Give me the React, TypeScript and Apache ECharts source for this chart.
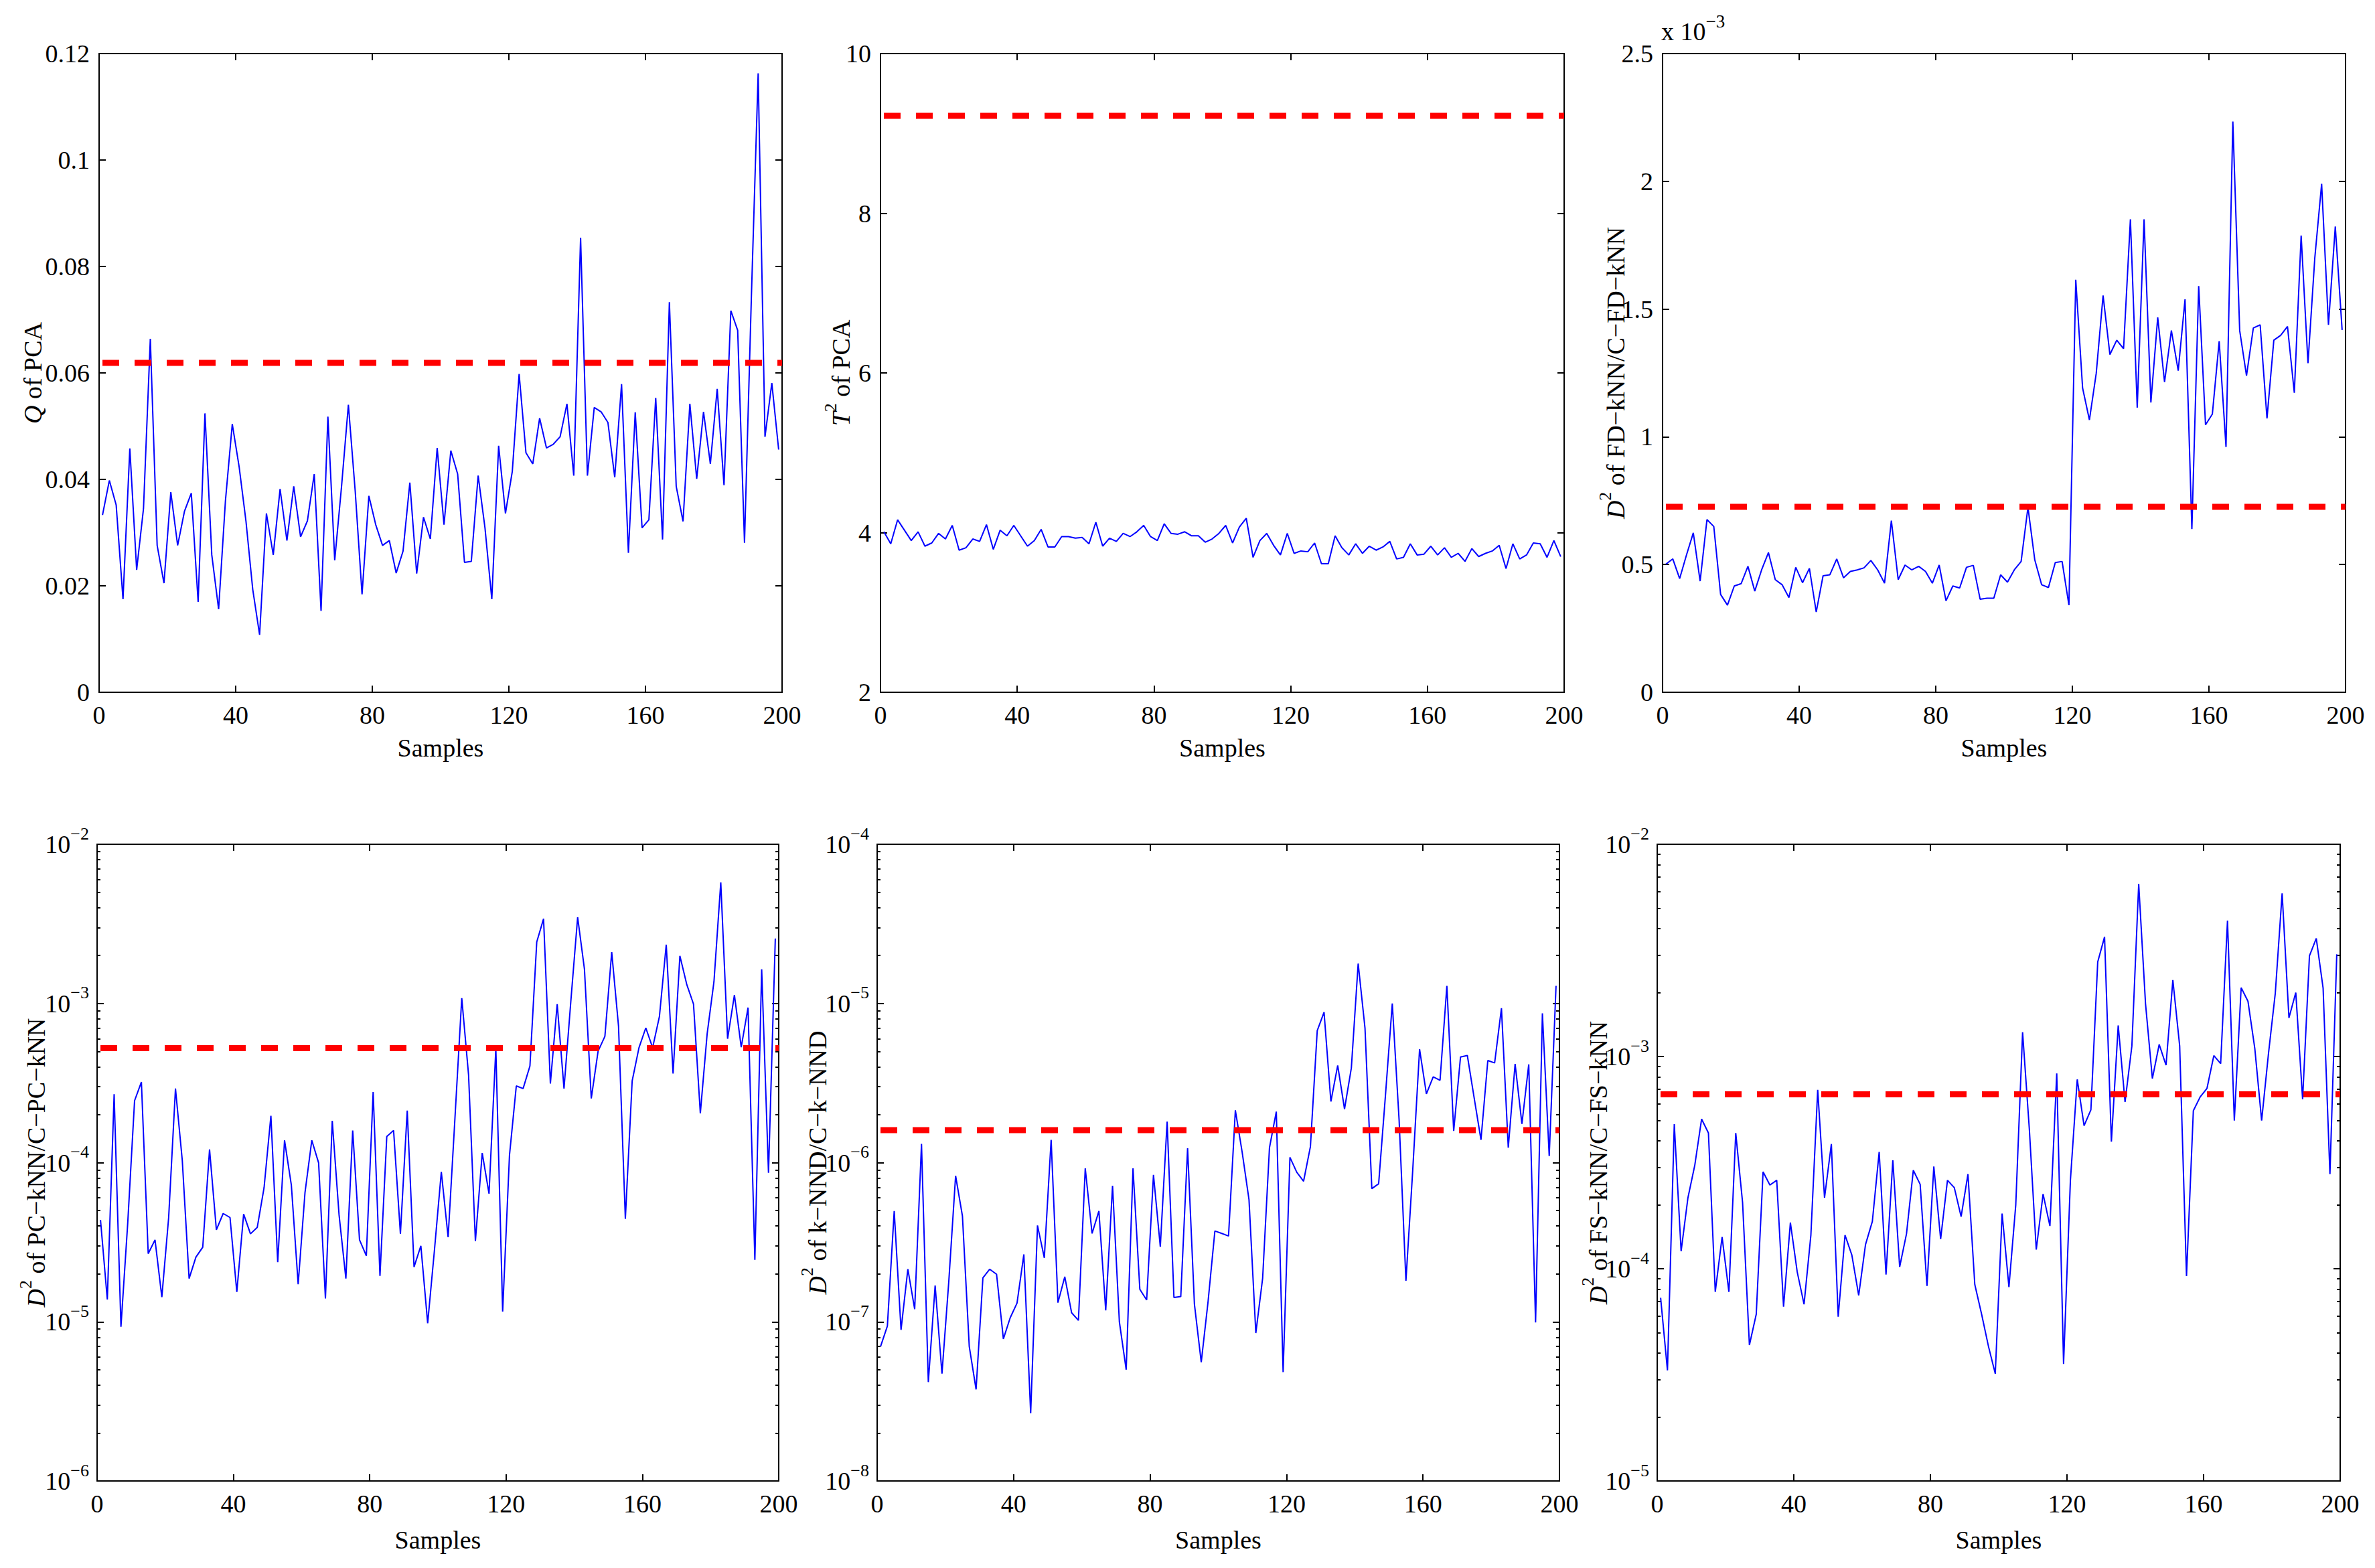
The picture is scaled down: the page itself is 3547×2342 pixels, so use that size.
import React, { useEffect, useRef } from "react";
import * as echarts from "echarts";

const FONT = "'Liberation Serif', 'Times New Roman', Times, serif";
const W = 3547;
const H = 2342;

// sample indices (every second sample is drawn)
const samples = Array.from({ length: 100 }, (_, i) => 2 * i + 1);
const xMin = 0;
const xMax = 200;
const xInterval = 40;

const qPCA = [
  0.0333, 0.0398, 0.0352, 0.0175, 0.0458, 0.023, 0.0345, 0.0664, 0.0276, 0.0205,
  0.0376, 0.0276, 0.034, 0.0374, 0.017, 0.0524, 0.0258, 0.0156, 0.036, 0.0504,
  0.0424, 0.0322, 0.0193, 0.0108, 0.0336, 0.0258, 0.0382, 0.0285, 0.0387, 0.0292,
  0.0322, 0.041, 0.0153, 0.0518, 0.0248, 0.0387, 0.054, 0.0378, 0.0184, 0.0369,
  0.0315, 0.0276, 0.0285, 0.0224, 0.0265, 0.0394, 0.0223, 0.0329, 0.0288, 0.0459,
  0.0315, 0.0454, 0.041, 0.0244, 0.0246, 0.0407, 0.0309, 0.0175, 0.0463, 0.0336,
  0.0415, 0.0598, 0.045, 0.0429, 0.0515, 0.0459, 0.0466, 0.048, 0.0542, 0.0407,
  0.0854, 0.0407, 0.0535, 0.0527, 0.0507, 0.0404, 0.0579, 0.0262, 0.0526, 0.0309,
  0.0324, 0.0553, 0.0287, 0.0733, 0.0387, 0.0321, 0.0542, 0.0401, 0.0527, 0.0429,
  0.057, 0.0389, 0.0717, 0.068, 0.0281, 0.074, 0.1163, 0.048, 0.0581, 0.0456,
];
const qLimit = 0.0619;

const t2PCA = [
  4.01, 3.86, 4.16, 4.03, 3.9, 4.01, 3.83, 3.87, 3.99, 3.92,
  4.09, 3.78, 3.81, 3.92, 3.89, 4.1, 3.79, 4.03, 3.96, 4.09,
  3.96, 3.83, 3.9, 4.04, 3.82, 3.82, 3.95, 3.95, 3.93, 3.94,
  3.86, 4.13, 3.83, 3.93, 3.89, 3.99, 3.95, 4.01, 4.09, 3.95,
  3.9, 4.11, 3.99, 3.98, 4.01, 3.96, 3.96, 3.88, 3.92, 3.99,
  4.09, 3.87, 4.07, 4.18, 3.69, 3.9, 3.99, 3.84, 3.72, 3.99,
  3.74, 3.77, 3.76, 3.87, 3.61, 3.61, 3.96, 3.81, 3.72, 3.86,
  3.74, 3.83, 3.78, 3.82, 3.89, 3.67, 3.69, 3.86, 3.72, 3.73,
  3.83, 3.72, 3.81, 3.69, 3.74, 3.64, 3.8, 3.7, 3.74, 3.77,
  3.84, 3.55, 3.86, 3.67, 3.72, 3.87, 3.86, 3.69, 3.9, 3.7,
];
const t2Limit = 9.22;

// values in units of 1e-3
const fdKnn = [
  0.502, 0.522, 0.445, 0.537, 0.624, 0.435, 0.676, 0.649, 0.383, 0.341,
  0.416, 0.425, 0.493, 0.396, 0.479, 0.547, 0.441, 0.421, 0.371, 0.489,
  0.429, 0.485, 0.314, 0.456, 0.46, 0.522, 0.448, 0.473, 0.479, 0.487,
  0.516, 0.479, 0.427, 0.672, 0.441, 0.498, 0.479, 0.493, 0.473, 0.427,
  0.498, 0.358, 0.416, 0.408, 0.489, 0.497, 0.364, 0.368, 0.368, 0.46,
  0.431, 0.479, 0.512, 0.724, 0.518, 0.421, 0.41, 0.508, 0.512, 0.341,
  1.615, 1.191, 1.066, 1.249, 1.553, 1.322, 1.378, 1.345, 1.851, 1.114,
  1.851, 1.134, 1.467, 1.214, 1.416, 1.259, 1.538, 0.639, 1.59, 1.047,
  1.089, 1.374, 0.96, 2.234, 1.416, 1.239, 1.426, 1.438, 1.072, 1.378,
  1.397, 1.432, 1.172, 1.788, 1.288, 1.7, 1.99, 1.438, 1.823, 1.418,
];
const fdLimit = 0.7256;

const pcKnn = [
  4.37e-5, 1.38e-5, 2.69e-4, 9.3e-6, 4.2e-5, 2.45e-4, 3.21e-4, 2.68e-5, 3.27e-5, 1.43e-5,
  4.52e-5, 2.92e-4, 1.03e-4, 1.87e-5, 2.55e-5, 2.94e-5, 1.21e-4, 3.78e-5, 4.79e-5, 4.52e-5,
  1.54e-5, 4.75e-5, 3.57e-5, 3.92e-5, 6.97e-5, 1.97e-4, 2.37e-5, 1.38e-4, 7.22e-5, 1.72e-5,
  6.47e-5, 1.38e-4, 9.96e-5, 1.4e-5, 1.83e-4, 4.69e-5, 1.87e-5, 1.59e-4, 3.27e-5, 2.6e-5,
  2.78e-4, 1.94e-5, 1.46e-4, 1.59e-4, 3.57e-5, 2.12e-4, 2.21e-5, 3.0e-5, 9.8e-6, 2.84e-5,
  8.75e-5, 3.4e-5, 1.9e-4, 1.08e-3, 3.55e-4, 3.21e-5, 1.15e-4, 6.38e-5, 5.2e-4, 1.16e-5,
  1.11e-4, 3.03e-4, 2.92e-4, 4.04e-4, 2.43e-3, 3.4e-3, 3.14e-4, 9.9e-4, 2.92e-4, 1.03e-3,
  3.48e-3, 1.64e-3, 2.53e-4, 5.01e-4, 6.21e-4, 2.1e-3, 7.18e-4, 4.43e-5, 3.26e-4, 5.27e-4,
  7.02e-4, 5.27e-4, 8.28e-4, 2.34e-3, 3.63e-4, 1.99e-3, 1.32e-3, 9.9e-4, 2.04e-4, 6.44e-4,
  1.37e-3, 5.75e-3, 6.0e-4, 1.13e-3, 5.31e-4, 9.42e-4, 2.45e-5, 1.64e-3, 8.63e-5, 2.56e-3,
];
const pcLimit = 5.24e-4;

const kNnd = [
  7.0e-8, 9.4e-8, 4.96e-7, 8.9e-8, 2.14e-7, 1.2e-7, 1.31e-6, 4.18e-8, 1.69e-7, 4.72e-8,
  1.79e-7, 8.26e-7, 4.62e-7, 7.0e-8, 3.76e-8, 1.89e-7, 2.14e-7, 1.99e-7, 7.8e-8, 1.06e-7,
  1.31e-7, 2.65e-7, 2.66e-8, 4.03e-7, 2.52e-7, 1.39e-6, 1.32e-7, 1.92e-7, 1.14e-7, 1.02e-7,
  9.2e-7, 3.59e-7, 4.96e-7, 1.18e-7, 7.16e-7, 1.0e-7, 5.0e-8, 9.2e-7, 1.6e-7, 1.37e-7,
  8.38e-7, 2.96e-7, 1.81e-6, 1.42e-7, 1.44e-7, 1.23e-6, 1.29e-7, 5.57e-8, 1.34e-7, 3.72e-7,
  3.59e-7, 3.46e-7, 2.13e-6, 1.16e-6, 5.85e-7, 8.5e-8, 1.88e-7, 1.24e-6, 2.09e-6, 4.83e-8,
  1.08e-6, 8.7e-7, 7.64e-7, 1.26e-6, 6.75e-6, 8.8e-6, 2.42e-6, 4.08e-6, 2.17e-6, 3.93e-6,
  1.78e-5, 7.0e-6, 6.86e-7, 7.36e-7, 2.65e-6, 1.0e-5, 1.85e-6, 1.81e-7, 9.0e-7, 5.16e-6,
  2.7e-6, 3.46e-6, 3.29e-6, 1.29e-5, 1.58e-6, 4.61e-6, 4.71e-6, 2.55e-6, 1.39e-6, 4.38e-6,
  4.23e-6, 9.33e-6, 1.24e-6, 4.17e-6, 1.75e-6, 4.14e-6, 9.9e-8, 8.67e-6, 1.1e-6, 1.29e-5,
];
const nndLimit = 1.6e-6;

const fsKnn = [
  7.3e-5, 3.32e-5, 4.8e-4, 1.21e-4, 2.16e-4, 3.07e-4, 5.07e-4, 4.36e-4, 7.78e-5, 1.41e-4,
  7.78e-5, 4.36e-4, 2.05e-4, 4.37e-5, 6.1e-5, 2.86e-4, 2.48e-4, 2.61e-4, 6.62e-5, 1.65e-4,
  9.65e-5, 6.8e-5, 1.44e-4, 6.97e-4, 2.16e-4, 3.87e-4, 5.94e-5, 1.44e-4, 1.16e-4, 7.49e-5,
  1.3e-4, 1.67e-4, 3.55e-4, 9.39e-5, 3.24e-4, 1.02e-4, 1.46e-4, 2.91e-4, 2.5e-4, 8.3e-5,
  3.03e-4, 1.38e-4, 2.61e-4, 2.41e-4, 1.76e-4, 2.79e-4, 8.43e-5, 6.1e-5, 4.31e-5, 3.2e-5,
  1.82e-4, 8.2e-5, 2.0e-4, 1.3e-3, 4.48e-4, 1.23e-4, 2.25e-4, 1.59e-4, 8.32e-4, 3.56e-5,
  2.61e-4, 7.8e-4, 4.72e-4, 5.61e-4, 2.79e-3, 3.66e-3, 3.97e-4, 1.4e-3, 6.11e-4, 1.12e-3,
  6.5e-3, 1.77e-3, 7.87e-4, 1.14e-3, 9.1e-4, 2.29e-3, 1.12e-3, 9.24e-5, 5.55e-4, 6.45e-4,
  7.08e-4, 1.01e-3, 9.26e-4, 4.37e-3, 4.99e-4, 2.11e-3, 1.82e-3, 1.09e-3, 4.99e-4, 1.03e-3,
  1.99e-3, 5.87e-3, 1.52e-3, 2.0e-3, 6.28e-4, 2.98e-3, 3.6e-3, 2.1e-3, 2.79e-4, 3.03e-3,
];
const fsLimit = 6.63e-4;

const yLabels = [
  "{i|Q} of PCA",
  "{i|T}{s|2} of PCA",
  "{i|D}{s|2} of FD\u2212kNN/C\u2212FD\u2212kNN",
  "{i|D}{s|2} of PC\u2212kNN/C\u2212PC\u2212kNN",
  "{i|D}{s|2} of k\u2212NND/C\u2212k\u2212NND",
  "{i|D}{s|2} of FS\u2212kNN/C\u2212FS\u2212kNN",
];
const xLabel = "Samples";

type Panel = {
  grid: { left: number; top: number; width: number; height: number };
  log: boolean;
  min: number;
  max: number;
  interval?: number;
  values: number[];
  limit: number;
  yLabelX: number;
  labelMargin: number;
};

const panels: Panel[] = [
  { grid: { left: 148, top: 80, width: 1020, height: 954 }, log: false, min: 0, max: 0.12, interval: 0.02, values: qPCA, limit: qLimit, yLabelX: 49, labelMargin: 14 },
  { grid: { left: 1315, top: 80, width: 1021, height: 954 }, log: false, min: 2, max: 10, interval: 2, values: t2PCA, limit: t2Limit, yLabelX: 1256, labelMargin: 14 },
  { grid: { left: 2483, top: 80, width: 1020, height: 954 }, log: false, min: 0, max: 2.5, interval: 0.5, values: fdKnn, limit: fdLimit, yLabelX: 2413, labelMargin: 14 },
  { grid: { left: 145, top: 1261, width: 1018, height: 951 }, log: true, min: 1e-6, max: 1e-2, values: pcKnn, limit: pcLimit, yLabelX: 54, labelMargin: 12 },
  { grid: { left: 1310, top: 1261, width: 1019, height: 951 }, log: true, min: 1e-8, max: 1e-4, values: kNnd, limit: nndLimit, yLabelX: 1221, labelMargin: 12 },
  { grid: { left: 2475, top: 1261, width: 1020, height: 951 }, log: true, min: 1e-5, max: 1e-2, values: fsKnn, limit: fsLimit, yLabelX: 2387, labelMargin: 12 },
];

const BLACK = "#000000";
const axisLineStyle = { color: BLACK, width: 2 };

function buildOption() {
  const grid: any[] = [];
  const xAxis: any[] = [];
  const yAxis: any[] = [];
  const series: any[] = [];
  const graphic: any[] = [];

  const supRich = {
    b: { fontSize: 38, fontFamily: FONT, color: BLACK, lineHeight: 58 },
    s: { fontSize: 26, fontFamily: FONT, color: BLACK, verticalAlign: "top" },
  };

  panels.forEach((p, i) => {
    grid.push({ ...p.grid, containLabel: false, outerBoundsMode: "none" });
    const xBase = {
      gridIndex: i,
      type: "value",
      min: xMin,
      max: xMax,
      interval: xInterval,
      splitLine: { show: false },
      axisLine: { show: true, onZero: false, lineStyle: axisLineStyle },
      axisTick: { show: true, inside: true, length: 10, lineStyle: axisLineStyle },
    };
    xAxis.push({
      ...xBase,
      position: "bottom",
      axisLabel: {
        show: true,
        margin: 15,
        fontSize: 38,
        fontFamily: FONT,
        color: BLACK,
        showMinLabel: true,
        showMaxLabel: true,
      },
    });
    xAxis.push({ ...xBase, position: "top", axisLabel: { show: false } });

    const yBase: any = {
      gridIndex: i,
      type: p.log ? "log" : "value",
      logBase: 10,
      min: p.min,
      max: p.max,
      splitLine: { show: false },
      axisLine: { show: true, onZero: false, lineStyle: axisLineStyle },
      axisTick: { show: true, inside: true, length: 10, lineStyle: axisLineStyle },
    };
    if (!p.log) yBase.interval = p.interval;
    if (p.log) {
      yBase.minorTick = { show: true, splitNumber: 9, length: 5, lineStyle: axisLineStyle };
      yBase.minorSplitLine = { show: false };
    }
    yAxis.push({
      ...yBase,
      position: "left",
      axisLabel: p.log
        ? {
            show: true,
            margin: p.labelMargin,
            formatter: (v: number) => {
              const e = Math.round(Math.log10(v));
              return "{b|10}{s|" + (e < 0 ? "\u2212" : "") + Math.abs(e) + "}";
            },
            rich: supRich,
            showMinLabel: true,
            showMaxLabel: true,
          }
        : {
            show: true,
            margin: p.labelMargin,
            fontSize: 38,
            fontFamily: FONT,
            color: BLACK,
            showMinLabel: true,
            showMaxLabel: true,
          },
    });
    yAxis.push({ ...yBase, position: "right", axisLabel: { show: false } });

    series.push({
      type: "line",
      xAxisIndex: 2 * i,
      yAxisIndex: 2 * i,
      data: samples.map((s, k) => [s, p.values[k]]),
      showSymbol: false,
      symbol: "none",
      lineStyle: { color: "#0000ff", width: 2 },
      silent: true,
      z: 2,
    });
    series.push({
      type: "line",
      xAxisIndex: 2 * i,
      yAxisIndex: 2 * i,
      data: [
        [xMin, p.limit],
        [xMax, p.limit],
      ],
      showSymbol: false,
      symbol: "none",
      lineStyle: { color: "#ff0000", width: 9, type: [25, 23], dashOffset: 43, cap: "butt" },
      silent: true,
      z: 3,
    });

    const cy = p.grid.top + p.grid.height / 2;
    graphic.push({
      type: "text",
      x: p.yLabelX,
      y: cy,
      rotation: Math.PI / 2,
      silent: true,
      style: {
        text: yLabels[i],
        fontSize: 38,
        fontFamily: FONT,
        fill: BLACK,
        lineHeight: 58,
        align: "center",
        verticalAlign: "middle",
        rich: {
          i: { fontSize: 38, fontFamily: FONT, fontStyle: "italic", fill: BLACK, lineHeight: 58 },
          s: { fontSize: 26, fontFamily: FONT, fill: BLACK, verticalAlign: "top" },
        },
      },
    });
    graphic.push({
      type: "text",
      x: p.grid.left + p.grid.width / 2,
      y: i < 3 ? 1117 : 2300,
      silent: true,
      style: {
        text: xLabel,
        fontSize: 38,
        fontFamily: FONT,
        fill: BLACK,
        align: "center",
        verticalAlign: "middle",
      },
    });
  });

  // exponent note above panel 3
  graphic.push({
    type: "text",
    x: 2481,
    y: 47,
    silent: true,
    style: {
      text: "{b|x 10}{s|\u22123}",
      fontSize: 38,
      fontFamily: FONT,
      fill: BLACK,
      align: "left",
      verticalAlign: "middle",
      rich: {
        b: { fontSize: 38, fontFamily: FONT, fill: BLACK, lineHeight: 58 },
        s: { fontSize: 27, fontFamily: FONT, fill: BLACK, verticalAlign: "top" },
      },
    },
  });

  return {
    animation: false,
    backgroundColor: "#ffffff",
    textStyle: { fontFamily: FONT },
    grid,
    xAxis,
    yAxis,
    series,
    graphic,
  };
}

export default function App() {
  const ref = useRef<HTMLDivElement | null>(null);
  useEffect(() => {
    if (!ref.current) return;
    const chart = echarts.init(ref.current, undefined, { renderer: "svg", width: W, height: H });
    chart.setOption(buildOption() as any);
    return () => {
      chart.dispose();
    };
  }, []);
  return (
    <div
      ref={ref}
      style={{ position: "absolute", left: 0, top: 0, width: W, height: H, background: "#fff" }}
    />
  );
}
